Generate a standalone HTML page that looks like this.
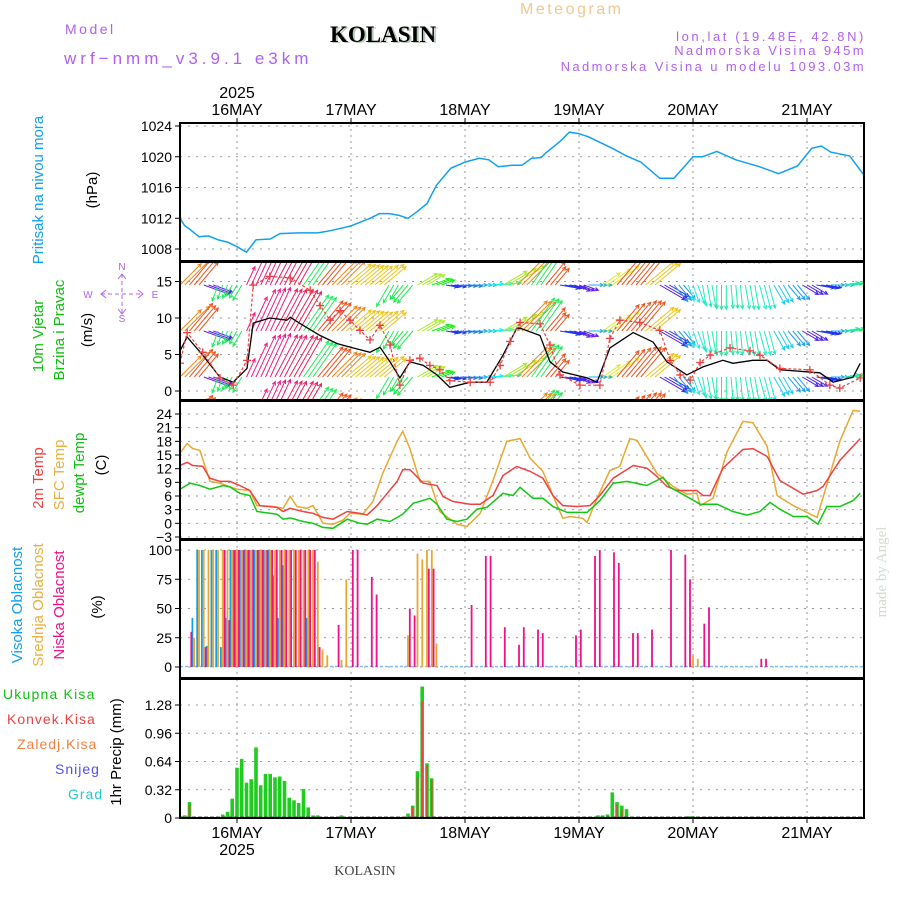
<!DOCTYPE html>
<html><head><meta charset="utf-8"><style>
body{margin:0;background:#fff;}
svg{display:block;font-family:"Liberation Sans",sans-serif;}
</style></head><body>
<svg id="chart" width="900" height="900" viewBox="0 0 900 900" xmlns="http://www.w3.org/2000/svg">
<defs>
<clipPath id="c1"><rect x="180" y="123" width="684" height="138"/></clipPath>
<clipPath id="c2"><rect x="180" y="262" width="684" height="138"/></clipPath>
<clipPath id="c3"><rect x="180" y="401" width="684" height="138"/></clipPath>
<clipPath id="c4"><rect x="180" y="540" width="684" height="138"/></clipPath>
<clipPath id="c5"><rect x="180" y="679" width="684" height="139"/></clipPath>
</defs>
<g>
<text x="65" y="34" font-size="14" fill="#b060f0" letter-spacing="2.5">Model</text>
<text x="64" y="64" font-size="17" fill="#b060f0" letter-spacing="4">wrf−nmm_v3.9.1 e3km</text>
<text x="332" y="43" font-size="23" font-weight="bold" font-family="Liberation Serif,serif" fill="#b8c8b8">KOLASIN</text>
<text x="330" y="42" font-size="23" font-weight="bold" font-family="Liberation Serif,serif" fill="#000">KOLASIN</text>
<text x="520" y="14" font-size="16" fill="#f0c890" letter-spacing="2.5">Meteogram</text>
<text x="866" y="41" font-size="13" fill="#b060f0" text-anchor="end" letter-spacing="2.6">lon,lat (19.48E, 42.8N)</text>
<text x="866" y="55" font-size="13" fill="#b060f0" text-anchor="end" letter-spacing="2.4">Nadmorska Visina 945m</text>
<text x="866" y="71" font-size="13" fill="#b060f0" text-anchor="end" letter-spacing="2.4">Nadmorska Visina u modelu 1093.03m</text>
<text x="237" y="98" font-size="16" text-anchor="middle">2025</text>
<text x="237" y="855" font-size="16" text-anchor="middle">2025</text>
<text x="365" y="875" font-size="14" font-family="Liberation Serif,serif" fill="#444" text-anchor="middle">KOLASIN</text>
<text transform="translate(886,572) rotate(-90)" font-size="15" font-family="Liberation Serif,serif" fill="#d0dcd0" text-anchor="middle">made by Angel</text>
</g>
<g font-size="15">
<text transform="translate(43,190) rotate(-90)" fill="#10a0f0" text-anchor="middle">Pritisak na nivou mora</text>
<text transform="translate(97,190) rotate(-90)" fill="#000" text-anchor="middle">(hPa)</text>
<text transform="translate(43,336) rotate(-90)" fill="#10c010" text-anchor="middle">10m Vjetar</text>
<text transform="translate(64,330) rotate(-90)" fill="#10c010" text-anchor="middle">Brzina i Pravac</text>
<text transform="translate(92,330) rotate(-90)" fill="#000" text-anchor="middle">(m/s)</text>
<g fill="#b060f0" font-size="10" text-anchor="middle" stroke="#b060f0">
<text x="122" y="270" stroke="none">N</text>
<text x="122" y="322" stroke="none">S</text>
<text x="88" y="298" stroke="none">W</text>
<text x="155" y="298" stroke="none">E</text>
<line x1="101" y1="294" x2="143" y2="294" stroke-dasharray="4,3"/>
<line x1="122" y1="274" x2="122" y2="314" stroke-dasharray="4,3"/>
<path d="M106,290L101,294L106,298M138,290L143,294L138,298M118,279L122,274L126,279M118,309L122,314L126,309" fill="none"/>
</g>
<text transform="translate(43,478) rotate(-90)" fill="#f04040" text-anchor="middle">2m Temp</text>
<text transform="translate(64,475) rotate(-90)" fill="#e8b040" text-anchor="middle">SFC Temp</text>
<text transform="translate(84,473) rotate(-90)" fill="#10c010" text-anchor="middle">dewpt Temp</text>
<text transform="translate(106,465) rotate(-90)" fill="#000" text-anchor="middle">(C)</text>
<text transform="translate(22,605) rotate(-90)" fill="#10a0f0" text-anchor="middle">Visoka Oblacnost</text>
<text transform="translate(43,605) rotate(-90)" fill="#e8b040" text-anchor="middle">Srednja Oblacnost</text>
<text transform="translate(64,605) rotate(-90)" fill="#f0108a" text-anchor="middle">Niska Oblacnost</text>
<text transform="translate(102,607) rotate(-90)" fill="#000" text-anchor="middle">(%)</text>
<g font-size="14">
<text x="3" y="699" fill="#10c010" letter-spacing="1.2">Ukupna Kisa</text>
<text x="7" y="724" fill="#f04040" letter-spacing="1">Konvek.Kisa</text>
<text x="17" y="749" fill="#f08040" letter-spacing="1">Zaledj.Kisa</text>
<text x="55" y="774" fill="#5050f0" letter-spacing="1">Snijeg</text>
<text x="68" y="799" fill="#20c8d0" letter-spacing="1">Grad</text>
</g>
<text transform="translate(121,752) rotate(-90)" fill="#000" text-anchor="middle">1hr Precip (mm)</text>
</g>
<g id="plots"></g>
</svg>
<script>
// time axis: hours since 15MAY 12:00
const dayLabels = ["16MAY","17MAY","18MAY","19MAY","20MAY","21MAY"];
const dayHours = [12,36,60,84,108,132];
const pressTicks = [1008,1012,1016,1020,1024];
const windTicks = [0,5,10,15];
const tempTicks = [-3,0,3,6,9,12,15,18,21,24];
const cloudTicks = [0,25,50,75,100];
const precipTicks = [0,0.32,0.64,0.96,1.28];

const pressH = [0,1,2,3,4,6,8,10,12,14,16,19,21,25,29,31,34,36,38,40,42,44,46,48,50,52,54,57,60,63,65,67,70,72,74,76,77,80,82,84,86,88,91,94,97,101,104,108,110,113,117,122,126,130,133,135,137,141,144];
const pressV = [1012.0,1011.0,1010.6,1010.1,1009.6,1009.7,1009.2,1008.9,1008.3,1007.6,1009.2,1009.3,1010.0,1010.1,1010.1,1010.3,1010.7,1011.0,1011.5,1012.0,1012.6,1012.6,1012.4,1012.0,1012.9,1013.9,1016.3,1018.5,1019.3,1019.8,1019.6,1018.7,1018.9,1018.9,1019.8,1019.9,1020.5,1022.0,1023.2,1023.0,1022.6,1022.0,1021.1,1020.1,1019.3,1017.2,1017.2,1020.0,1020.0,1020.7,1019.6,1018.7,1017.8,1018.8,1021.1,1021.4,1020.6,1020.1,1017.6];

const windH = [0,1.5,4.8,8.4,11.2,14.1,15.4,18.9,22.5,23.2,25.9,29.5,33.1,36.4,40,42.1,44.2,46.3,48.4,51.2,54.1,56.8,61.1,64.6,68,70.9,71.6,75.8,77.9,80.6,85.7,87.8,90.5,95.4,99.6,102.5,106.7,110.1,114.3,116.4,120.6,123.6,126.3,134.7,137.5,141.7,143.2];
const windV = [5.5,7.4,4.9,1.9,1.2,3.1,9.3,10,9.7,10.1,9,7.6,6.5,5.9,5.3,6,4,1.8,4,3.5,2.2,0.5,1.2,1.2,4.9,8.6,8.6,7.6,4,2.6,1.8,1.2,5.9,8,6.7,4,2.2,3.3,4.2,3.8,4.2,4.2,2.9,2.5,1.2,1.9,3.8];
const gustH = [0,1.5,4.8,8.4,11.2,14.1,15.4,18.9,23.2,27.4,29.5,31.6,33.7,35.8,37.9,40,42.1,44.2,46.3,48.4,50.5,52.6,54.7,56.8,61.1,65.3,67.4,69.5,71.6,75.8,77.9,80,84.2,88.4,90.5,92.6,96.8,101,103.2,105.3,107.4,109.5,111.6,115.8,120,122.1,126.3,132.6,136.8,138.9,143.2];
const gustV = [3.8,8,5.3,1.8,0.8,4.2,14.5,15.7,15.5,13.8,11.7,9.7,11,9.7,8.3,7,9,6.3,0.8,4.2,4.5,3.5,2.9,1.4,1.2,1.2,3.5,6.8,9.4,9.2,6.3,2.2,0.8,0.8,7.2,9.7,9.4,8.3,4.2,2.2,1.5,3.9,4.9,5.9,5.5,4.9,3.1,2.9,0.8,0.4,1.8];
const dirH = [0,3,6,9,12,15,18,21,24,27,30,33,36,39,42,45,48,51,54,57,60,63,66,69,72,75,78,81,84,87,90,93,96,99,102,105,108,111,114,117,120,123,126,129,132,135,138,141,144];
const dirV = [45,40,110,200,210,25,25,28,30,35,40,45,50,50,50,210,220,60,70,100,95,90,85,60,45,35,40,100,110,90,55,40,40,50,120,140,160,170,180,175,170,165,150,140,120,100,90,80,70];

const t2H = [0,1.5,2.7,4.8,6.3,8.4,10.5,12.6,14.7,16.8,20.4,21.7,23.2,25.9,28,30.1,32.2,35.2,37.9,39.4,41.5,45.7,46.9,48.4,51.2,54.1,55.4,57.5,61.1,63.2,65.9,68,70.9,73.7,76.4,78.5,80.6,83.6,86.3,88.4,91.2,95.4,98.3,100.4,102.5,104.6,108.8,110.1,111.6,114.3,118.5,120.6,123.6,126.3,128.4,131.2,134.1,135.4,138.9,143.2];
const t2V = [12.7,13.4,12.7,12.5,9.9,9.2,9.2,8.3,7.2,3.9,3.5,2.6,3.3,2.6,2.2,1.3,0.9,2.6,2.2,1.8,3.9,9.2,11.8,11.8,8.8,8.3,5.9,4.8,4.2,4.2,6.1,10.5,12.5,11.4,9.9,6.1,3.9,3.7,3.9,6.1,9.9,12.7,12.1,10.3,8.1,7.2,7.2,6.1,6.1,12.1,16.2,16.4,14.7,9.4,8.1,6.4,7.2,8.1,13.8,18.6];
const sfcH = [0,1.5,2.7,4.2,6.3,8.4,12,14.7,16.2,19.6,21.7,23.2,24.6,26.7,28,30.1,32.2,34.3,35.8,38.5,40.6,42.7,45.7,46.9,48.4,50.5,52.6,54.7,58.3,60.4,63.2,65.9,68.8,71.6,73.7,76.4,78.5,80.6,82.1,84.8,85.7,87.8,90.5,92.6,94.7,96.2,100.4,103.8,106.7,108.8,109.5,112.2,115.2,118.5,120.6,123.6,125.7,129.1,134.1,134.7,138.9,141.7,143.2];
const sfcV = [15.4,17.5,16.4,16,9.2,8.8,7.5,7.2,3.9,3.7,3.3,5.9,3.7,3.3,3.9,0,-0.2,0.7,2.2,2,4.8,11,18,20.2,16.4,9.2,9.2,2.6,-0.2,-0.7,2.2,9.4,18,18.6,14.3,11.4,6.1,1.1,1.5,1.1,0.2,5.5,11.6,12.5,18.6,18.2,11,8.1,6.4,6.6,3.9,5.5,15.8,22.4,22.1,16.9,6.1,3.9,1.3,3.3,18,24.8,24.6];
const dewH = [0,2.1,4.2,6.3,9.1,10.5,12.6,14.7,16.2,20.4,21.7,23.2,25.9,28,30.1,32.2,35.2,37.9,39.4,41.5,44.2,46.9,49.1,52.6,54.1,56.2,58.3,60.4,62.5,64.6,68,70.1,71.6,74.3,76.4,78.5,81.5,85.7,88.4,91.2,94.1,98.3,101.7,103.2,106.7,109.5,113.1,116.4,119.4,122.1,124.2,126.3,129.1,132,134.3,136.2,138.9,141.7,143.2];
const dewV = [7.5,8.8,8.3,7.5,8.3,8,6.6,6.1,2.6,2,0.9,1.2,0.4,0,-0.9,-1.1,0.9,0,-0.2,0.9,0.4,2,4.4,5.5,4.2,0.9,0.4,0.9,3.1,3.5,6.6,6.1,7.9,5.5,5.5,3.7,2.4,2.4,5,8.8,9.2,8.3,10.1,7.9,5.9,4.2,4.2,2.6,1.8,2.6,4.6,3.1,1.5,1.5,-0.2,3.7,3.7,5,6.6];

const highH = [3,4,5,6,7,8,9,10,11,12,13,14,15,16,17,18,19,20,21,22,27];
const highV = [42,100,100,18,100,100,17,42,100,100,100,100,100,100,100,100,100,78,42,87,42];
const midH = [3,4,5,6,7,8,9,10,11,12,13,14,15,16,17,18,19,20,21,22,23,24,25,26,27,28,29,30,31,34,35,48,50,51,52,53,54,108,109];
const midV = [25,100,100,100,100,100,100,100,100,100,100,100,100,100,100,100,100,100,100,100,100,100,100,100,100,100,90,15,10,6,75,27,97,92,100,100,20,10,7];
const lowH = [2,5,9,10,11,12,13,14,15,16,17,18,19,20,21,22,23,24,25,26,27,28,29,33,36,37,40,41,48,49,52,53,61,64,65,68,71,72,75,76,83,84,87,88,91,92,95,96,99,103,106,107,110,111,122,123];
const lowV = [30,17,100,40,100,100,100,100,100,100,100,100,100,100,100,100,100,100,100,100,100,100,17,36,100,100,77,62,50,44,84,84,53,95,95,34,19,34,32,29,27,32,95,100,98,89,29,29,32,100,96,75,37,51,7,7];

const precipH = [1,2,8,9,10,11,12,13,14,15,16,17,18,19,20,21,22,23,24,25,26,27,28,29,33,34,35,48,49,50,51,52,53,88,89,90,91,92,93,94,107,108];
const precipV = [0.03,0.18,0.01,0.04,0.07,0.22,0.57,0.67,0.4,0.44,0.8,0.37,0.5,0.5,0.46,0.47,0.42,0.23,0.2,0.17,0.33,0.12,0.03,0.03,0.01,0.03,0.01,0.05,0.14,0.53,1.49,0.62,0.45,0.03,0.03,0.04,0.29,0.18,0.14,0.1,0.02,0.02];
const convH = [2,49,50,51,52,53,92,93];
const convV = [0.15,0.12,0.46,1.32,0.6,0.43,0.15,0.1];

const NS="http://www.w3.org/2000/svg";
const root=document.getElementById('plots');
const X0=180, X1=864, PXH=4.75;
function xs(h){return X0+h*PXH;}
function el(tag,attrs,parent){const e=document.createElementNS(NS,tag);for(const k in attrs)e.setAttribute(k,attrs[k]);(parent||root).appendChild(e);return e;}
function lin(v0,y0,v1,y1){return v=>y0+(v-v0)*(y1-y0)/(v1-v0);}
const yP=lin(1008,249,1024,126);
const yW=lin(0,391,10,318);
const yT=lin(-3,537,24,414);
const yC=lin(0,667,100,550);
const yR=lin(0,818,1.28,705);

const panels=[
 {top:123,bot:261,y:yP,ticks:pressTicks,fmt:v=>v,name:'pressure'},
 {top:262,bot:400,y:yW,ticks:windTicks,fmt:v=>v,name:'wind'},
 {top:401,bot:539,y:yT,ticks:tempTicks,fmt:v=>v<0?'−'+(-v):v,name:'temperature'},
 {top:540,bot:678,y:yC,ticks:cloudTicks,fmt:v=>v,name:'cloud'},
 {top:679,bot:818,y:yR,ticks:precipTicks,fmt:v=>v===0?'0':v.toFixed(2),name:'precip'}
];
panels.forEach((p,i)=>{
 const g=el('g',{});
 
 
 dayHours.forEach(h=>{el('line',{x1:xs(h),x2:xs(h),y1:p.top,y2:p.bot,stroke:'#999','stroke-dasharray':'2,4','stroke-width':1},g);});
 p.ticks.forEach(v=>{
  const y=p.y(v);
  el('line',{x1:X0,x2:X1,y1:y,y2:y,stroke:'#999','stroke-dasharray':'2,6','stroke-width':1},g);
  el('line',{x1:X0-5,x2:X0,y1:y,y2:y,stroke:'#000'},g);
  const t=el('text',{x:X0-8,y:y+5,'font-size':14,'text-anchor':'end'},g);
  t.textContent=p.fmt(v);
  
  
 });
});
dayLabels.forEach((d,i)=>{
 const x=xs(dayHours[i]);
 const t=el('text',{x:x,y:115,'font-size':16,'text-anchor':'middle'});
 t.textContent=d;
 
 
 const b=el('text',{x:x,y:838,'font-size':16,'text-anchor':'middle'});
 b.textContent=d;
 
 
 el('line',{x1:x,x2:x,y1:118,y2:123,stroke:'#000'});
 el('line',{x1:x,x2:x,y1:818,y2:823,stroke:'#000'});
});
function path(H,V,yf){return H.map((h,i)=>(i?'L':'M')+xs(h).toFixed(1)+','+yf(V[i]).toFixed(1)).join('');}
const gp=el('g',{'clip-path':'url(#c1)'});
const pl=el('path',{d:path(pressH,pressV,yP),fill:'none',stroke:'#10a0f0','stroke-width':1.5},gp);


function interp(H,V,h){if(h<=H[0])return V[0];for(let i=1;i<H.length;i++){if(h<=H[i]){const f=(h-H[i-1])/(H[i]-H[i-1]);return V[i-1]+f*(V[i]-V[i-1]);}}return V[V.length-1];}
const hueStops=[[0,320],[25,330],[30,345],[38,10],[45,30],[52,55],[60,80],[70,120],[85,180],[95,215],[105,250],[115,270],[130,215],[150,190],[170,165],[200,140],[230,130],[360,320]];
function hueOf(a){for(let i=1;i<hueStops.length;i++){if(a<=hueStops[i][0]){const s=hueStops[i-1],e=hueStops[i];return s[1]+(a-s[0])/(e[0]-s[0])*(e[1]-s[1]);}}return 0;}
const gw=el('g',{'clip-path':'url(#c2)'});


const rows=[239,285,331,377,423];
for(let h=0;h<=144;h++){
 const di=Math.round(h/3);
 const a=dirV[Math.min(di,dirV.length-1)];
 const sp=interp(windH,windV,h);
 const L=8+sp*4;
 const rad=a*Math.PI/180;
 const dx=Math.sin(rad)*L, dy=-Math.cos(rad)*L;
 const col='hsl('+((hueOf(a)%360+360)%360).toFixed(0)+',85%,52%)';
 rows.forEach(r=>{
  const x=xs(h),x2=x+dx,y2=r+dy;
  const hl=4, b1=rad+Math.PI-0.45, b2=rad+Math.PI+0.45;
  const d='M'+x.toFixed(1)+','+r+'L'+x2.toFixed(1)+','+y2.toFixed(1)+
   'M'+(x2+Math.sin(b1)*hl).toFixed(1)+','+(y2-Math.cos(b1)*hl).toFixed(1)+'L'+x2.toFixed(1)+','+y2.toFixed(1)+
   'L'+(x2+Math.sin(b2)*hl).toFixed(1)+','+(y2-Math.cos(b2)*hl).toFixed(1);
  const ar=el('path',{d:d,stroke:col,'stroke-width':1,fill:'none'},gw);
  
  
 });
}
const gsl=el('g',{'clip-path':'url(#c2)'});
const wl=el('path',{d:path(windH,windV,yW),fill:'none',stroke:'#000','stroke-width':1.3},gsl);


const gl=el('path',{d:path(gustH,gustV,yW),fill:'none',stroke:'#f04040','stroke-width':1.2,'stroke-dasharray':'3,2'},gsl);


gustH.forEach((h,i)=>{
 const x=xs(h),y=yW(gustV[i]);
 const m=el('path',{d:`M${x-4},${y}L${x+4},${y}M${x},${y-4}L${x},${y+4}`,stroke:'#f04040','stroke-width':1.3},gsl);
 
 
});
const gt=el('g',{'clip-path':'url(#c3)'});
[[sfcH,sfcV,'#e8a830','sfc-temp-line'],[t2H,t2V,'#f04040','temp-2m-line'],[dewH,dewV,'#10c810','dewpoint-line']].forEach(s=>{
 const l=el('path',{d:path(s[0],s[1],yT),fill:'none',stroke:s[2],'stroke-width':1.5},gt);
 
 
});
const gc=el('g',{'clip-path':'url(#c4)'});
el('line',{x1:X0,x2:X1,y1:666.5,y2:666.5,stroke:'#80c0f0','stroke-width':1.5,'stroke-dasharray':'3,2'},gc);
[[highH,highV,'#10a0f0',-1.8,'high-cloud-bar'],[midH,midV,'#e8a830',0,'mid-cloud-bar'],[lowH,lowV,'#f0108a',1.8,'low-cloud-bar']].forEach(s=>{
 s[0].forEach((h,i)=>{
  const y=yC(s[1][i]);
  const r=el('rect',{x:(xs(h)+s[3]-0.9).toFixed(1),y:y.toFixed(1),width:1.8,height:(yC(0)-y).toFixed(1),fill:s[2]},gc);
  
  
 });
});
const gr=el('g',{'clip-path':'url(#c5)'});
precipH.forEach((h,i)=>{
 const y=yR(precipV[i]);
 const r=el('rect',{x:(xs(h)-1.8).toFixed(1),y:y.toFixed(1),width:3.6,height:(818-y).toFixed(1),fill:'#20cc20'},gr);
 
 
});
convH.forEach((h,i)=>{
 const y=yR(convV[i]);
 const r=el('rect',{x:(xs(h)-0.8).toFixed(1),y:y.toFixed(1),width:1.6,height:(818-y).toFixed(1),fill:'#f04040'},gr);
 
 
});
el('line',{x1:X0,x2:X1,y1:817,y2:817,stroke:'#555','stroke-width':1,'stroke-dasharray':'4,2'},gr);
panels.forEach(p=>{
 const f=el('rect',{x:X0,y:p.top,width:X1-X0,height:p.bot-p.top,fill:'none',stroke:'#000','stroke-width':2});
 
 
});
</script>
</body></html>
